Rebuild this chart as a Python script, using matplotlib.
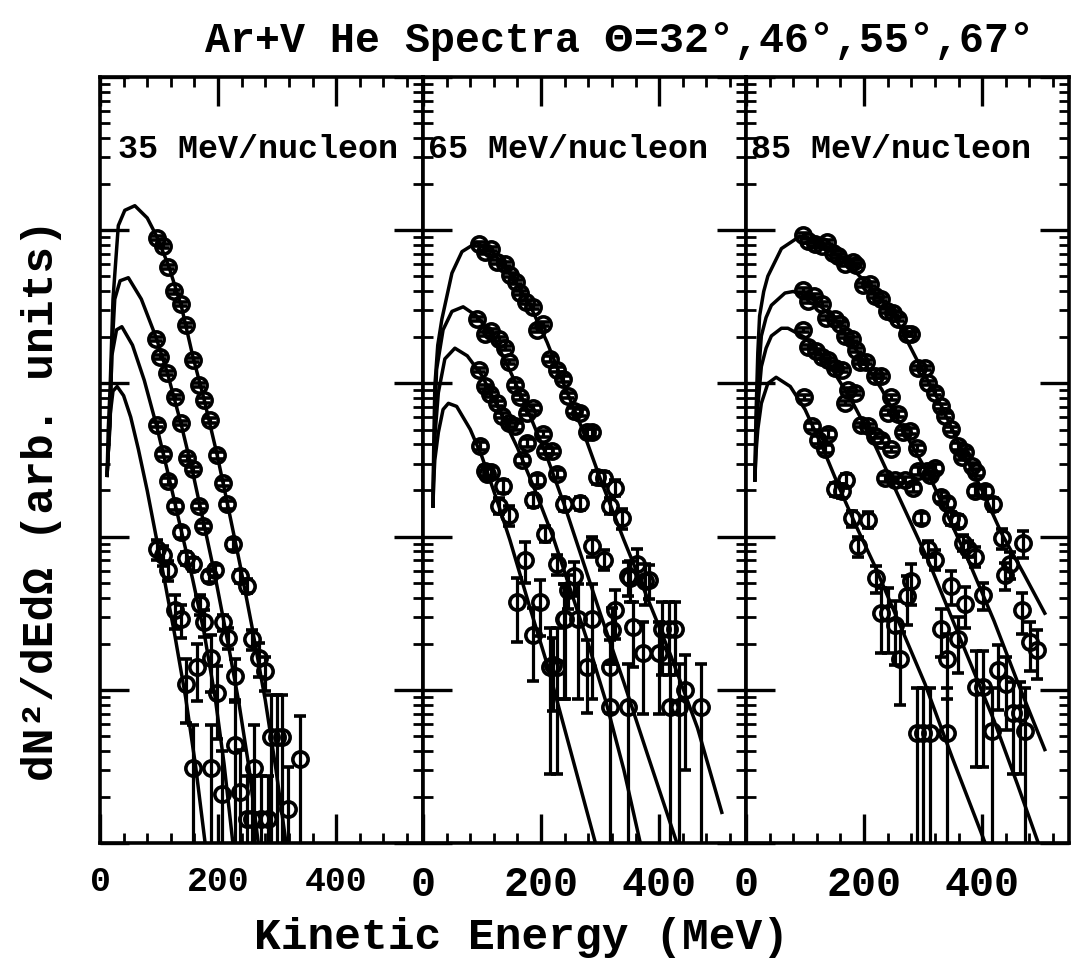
import numpy as np
import matplotlib.pyplot as plt
from matplotlib.ticker import MultipleLocator, LogLocator, NullFormatter, FixedLocator

plt.rcParams['font.family'] = ['Liberation Mono', 'DejaVu Sans Mono']
plt.rcParams['font.weight'] = 'bold'
plt.rcParams['mathtext.fontset'] = 'dejavusans'

# data points: energy (MeV), log10 of dN2/dEdOmega (arb. units), relative error
# 35 MeV/nucleon
e35_32 = [96, 107, 116, 125, 138, 146, 157, 167, 176, 186, 198, 208, 215, 226, 237, 249, 257, 270, 280, 290, 299, 309, 338, 319, 285]
lg35_32 = [3.95, 3.90, 3.76, 3.60, 3.52, 3.38, 3.15, 2.99, 2.89, 2.76, 2.53, 2.35, 2.21, 1.95, 1.74, 1.68, 1.33, 1.21, 1.12, 0.69, 0.69, 0.69, 0.55, 0.22, 0.16]
r35_32 = [.03, .03, .03, .03, .03, .03, .03, .03, .04, .04, .05, .05, .06, .08, .1, .1, .15, .25, .25, .9, .9, .9, .9, .9, .9]
e35_46 = [95, 102, 114, 127, 137, 147, 157, 167, 175, 184, 195, 209, 217, 229, 229, 260, 237, 257]
lg35_46 = [3.29, 3.17, 3.07, 2.91, 2.74, 2.51, 2.44, 2.20, 2.07, 1.74, 1.78, 1.44, 1.34, 1.09, 0.64, 0.49, 0.33, 0.16]
r35_46 = [.03, .03, .03, .03, .03, .04, .04, .05, .05, .08, .08, .12, .15, .3, .9, .9, .9, .9]
e35_55 = [96, 106, 116, 127, 137, 146, 157, 164, 170, 176, 188, 198, 188, 206, 249, 272]
lg35_55 = [2.73, 2.54, 2.36, 2.20, 2.03, 1.86, 1.82, 1.15, 1.56, 1.44, 1.21, 0.98, 0.49, 0.32, 0.16, 0.16]
r35_55 = [.04, .05, .05, .06, .08, .1, .1, .4, .15, .2, .4, .5, .9, .9, .9, .9]
e35_67 = [96, 107, 116, 127, 138, 146, 157]
lg35_67 = [1.92, 1.88, 1.78, 1.52, 1.46, 1.04, 0.49]
r35_67 = [.15, .15, .15, .25, .25, .45, .9]

# 65 MeV/nucleon
e65_32 = [94, 105, 116, 126, 139, 147, 158, 164, 175, 187, 193, 204, 215, 227, 237, 246, 255, 266, 277, 286, 294, 306, 317, 325, 337, 351, 362, 376, 405, 416, 427, 444, 470]
lg65_32 = [3.91, 3.86, 3.88, 3.79, 3.78, 3.71, 3.66, 3.59, 3.53, 3.50, 3.35, 3.39, 3.16, 3.09, 3.03, 2.92, 2.82, 2.81, 2.68, 2.68, 2.39, 2.38, 2.20, 2.32, 2.12, 1.73, 1.82, 1.71, 1.40, 1.40, 1.40, 1.00, 0.89]
r65_32 = [.03, .03, .03, .03, .03, .03, .03, .03, .03, .03, .03, .03, .04, .04, .04, .04, .05, .05, .06, .06, .1, .1, .12, .12, .15, .3, .25, .3, .5, .5, .5, .7, .9]
e65_46 = [91, 105, 116, 128, 139, 145, 156, 164, 176, 187, 204, 207, 218, 227, 238, 255, 266, 286, 306, 320, 348, 373, 382, 399, 419, 433]
lg65_46 = [3.42, 3.32, 3.34, 3.29, 3.23, 3.14, 2.99, 2.91, 2.81, 2.84, 2.67, 2.56, 2.56, 2.41, 2.21, 1.74, 2.22, 1.94, 1.85, 1.39, 1.74, 1.24, 1.72, 1.24, 0.89, 0.89]
r65_46 = [.03, .03, .03, .03, .03, .03, .04, .04, .04, .04, .05, .05, .05, .06, .1, .25, .1, .15, .15, .4, .25, .6, .25, .6, .9, .9]
e65_55 = [94, 105, 114, 125, 133, 145, 156, 167, 176, 187, 193, 207, 227, 246, 238, 262, 286, 221, 277, 317, 325, 356, 348]
lg65_55 = [3.09, 2.98, 2.93, 2.87, 2.79, 2.74, 2.72, 2.50, 2.61, 2.24, 2.37, 2.02, 1.82, 1.65, 1.46, 1.46, 1.46, 1.16, 1.15, 1.15, 1.52, 1.41, 0.89]
r65_55 = [.03, .03, .04, .04, .04, .05, .05, .06, .06, .1, .08, .12, .15, .25, .7, .7, .7, .5, .5, .5, .35, .45, .9]
e65_67 = [97, 105, 108, 116, 128, 136, 145, 159, 173, 187, 198, 215, 227, 240, 317]
lg65_67 = [2.59, 2.43, 2.41, 2.42, 2.20, 2.33, 2.14, 1.57, 1.85, 1.36, 1.57, 1.15, 1.15, 1.46, 0.89]
r65_67 = [.06, .08, .08, .08, .12, .1, .15, .45, .3, .5, .4, .8, .8, .7, .9]

# 85 MeV/nucleon
e85_32 = [97, 105, 117, 128, 138, 147, 156, 167, 181, 187, 198, 210, 218, 229, 238, 249, 258, 272, 280, 292,
          303, 308, 320, 331, 337, 348, 359, 365, 371, 382, 390, 388, 405, 419, 433, 447, 438, 469, 467, 481, 492]
lg85_32 = [3.97, 3.93, 3.91, 3.90, 3.92, 3.85, 3.83, 3.78, 3.79, 3.77, 3.64, 3.65, 3.57, 3.55, 3.47, 3.46, 3.42, 3.32, 3.32, 3.10,
           3.10, 3.00, 2.94, 2.85, 2.79, 2.70, 2.59, 2.52, 2.55, 2.46, 2.42, 2.30, 2.30, 2.21, 1.99, 1.82, 1.75, 1.96, 1.52, 1.31, 1.26]
r85_32 = [.03, .03, .03, .03, .03, .03, .03, .03, .03, .03, .03, .03, .03, .03, .03, .03, .03, .03, .03, .03,
          .03, .03, .04, .04, .04, .04, .05, .05, .05, .05, .05, .08, .08, .1, .15, .2, .2, .2, .3, .35, .35]
e85_46 = [97, 105, 116, 128, 136, 150, 159, 167, 179, 187, 193, 204, 218, 229, 246, 241, 258, 266, 277, 289,
          292, 306, 311, 320, 331, 340, 348, 359, 368, 376, 388, 402, 427, 441, 453, 464, 472]
lg85_46 = [3.61, 3.54, 3.57, 3.52, 3.43, 3.42, 3.39, 3.31, 3.29, 3.22, 3.14, 3.14, 3.05, 3.05, 2.91, 2.81, 2.80, 2.68, 2.69, 2.58,
           2.43, 2.43, 2.40, 2.45, 2.26, 2.22, 2.12, 2.10, 1.96, 1.92, 1.87, 1.62, 1.13, 1.04, 0.85, 0.85, 0.73]
r85_46 = [.03, .03, .03, .03, .03, .03, .03, .03, .03, .03, .03, .03, .03, .03, .04, .04, .04, .04, .04, .05,
          .06, .06, .06, .06, .08, .08, .1, .1, .12, .12, .15, .2, .45, .5, .6, .6, .9]
e85_55 = [97, 105, 119, 128, 139, 150, 162, 173, 184, 167, 195, 207, 218, 229, 246, 235, 252, 269, 283, 297,
          308, 320, 348, 371, 359, 390, 402, 416, 331, 340]
lg85_55 = [3.35, 3.24, 3.21, 3.17, 3.15, 3.10, 3.09, 2.96, 2.94, 2.87, 2.73, 2.72, 2.66, 2.63, 2.57, 2.38, 2.37, 2.37, 2.32, 2.12,
           1.92, 1.85, 1.68, 1.56, 1.33, 1.02, 1.02, 0.73, 1.40, 1.20]
r85_55 = [.03, .03, .03, .03, .03, .03, .03, .03, .03, .03, .03, .03, .04, .04, .04, .05, .05, .05, .06, .08,
          .12, .15, .25, .3, .4, .7, .7, .9, .35, .45]
e85_67 = [99, 111, 122, 133, 139, 150, 162, 170, 179, 190, 207, 221, 229, 241, 252, 261, 272, 280, 289, 300, 311, 340]
lg85_67 = [2.91, 2.72, 2.63, 2.57, 2.67, 2.31, 2.30, 2.37, 2.12, 1.94, 2.11, 1.73, 1.50, 1.50, 1.42, 1.20, 1.61, 1.71, 0.72, 0.72, 0.72, 0.72]
r85_67 = [.04, .05, .06, .06, .06, .1, .1, .1, .12, .15, .12, .2, .45, .45, .45, .5, .35, .3, .95, .95, .95, .95]

# fit curves: energy (MeV), log10 yield
f35_32 = ([12, 14, 17, 22, 31, 42, 59, 80, 96, 116, 138, 157, 176, 198, 215, 237, 257, 280, 298, 315],
          [2.40, 2.70, 2.96, 3.55, 4.03, 4.13, 4.16, 4.08, 3.96, 3.77, 3.50, 3.18, 2.90, 2.54, 2.23, 1.82, 1.42, 0.93, 0.48, 0.0])
f35_46 = ([12, 14, 17, 20, 25, 34, 48, 70, 95, 114, 137, 157, 175, 195, 217, 235, 252, 268],
          [2.40, 2.55, 2.72, 3.20, 3.55, 3.67, 3.69, 3.55, 3.30, 3.07, 2.74, 2.42, 2.10, 1.74, 1.30, 0.92, 0.50, 0.0])
f35_55 = ([12, 14, 17, 20, 28, 37, 55, 75, 96, 116, 137, 157, 176, 195, 210, 225],
          [2.40, 2.55, 2.80, 3.18, 3.35, 3.37, 3.25, 3.02, 2.72, 2.40, 2.05, 1.72, 1.38, 0.95, 0.52, 0.0])
f35_67 = ([12, 14, 17, 22, 29, 40, 52, 65, 80, 96, 110, 127, 145, 162, 178],
          [2.40, 2.55, 2.79, 2.95, 2.98, 2.92, 2.78, 2.57, 2.30, 1.98, 1.70, 1.35, 0.95, 0.50, 0.0])
f65_32 = ([17, 18, 20, 25, 32, 49, 66, 91, 120, 150, 180, 210, 240, 270, 300, 340, 380, 420, 465, 506],
          [2.20, 2.55, 2.98, 3.25, 3.42, 3.72, 3.86, 3.92, 3.85, 3.70, 3.52, 3.27, 2.98, 2.70, 2.38, 1.98, 1.60, 1.22, 0.75, 0.20])
f65_46 = ([17, 18, 20, 23, 34, 49, 68, 91, 120, 150, 180, 210, 240, 270, 300, 340, 380, 430],
          [2.20, 2.45, 2.75, 3.09, 3.35, 3.47, 3.50, 3.44, 3.30, 3.06, 2.80, 2.52, 2.20, 1.85, 1.50, 1.05, 0.58, 0.0])
f65_55 = ([17, 18, 20, 26, 37, 54, 75, 100, 130, 160, 190, 220, 250, 280, 310, 340, 368],
          [2.20, 2.40, 2.65, 2.94, 3.16, 3.23, 3.18, 3.05, 2.82, 2.58, 2.30, 2.00, 1.65, 1.30, 0.92, 0.48, 0.0])
f65_67 = ([17, 18, 20, 26, 34, 43, 57, 80, 100, 125, 147, 180, 210, 250, 292],
          [2.20, 2.35, 2.50, 2.68, 2.83, 2.87, 2.85, 2.70, 2.52, 2.24, 1.98, 1.55, 1.17, 0.60, 0.0])
f85_32 = ([15, 17, 20, 23, 30, 37, 60, 91, 130, 170, 210, 250, 290, 330, 365, 400, 433, 470, 506],
          [2.37, 2.80, 3.20, 3.44, 3.60, 3.70, 3.88, 3.96, 3.91, 3.79, 3.63, 3.45, 3.15, 2.86, 2.57, 2.30, 2.02, 1.76, 1.50])
f85_46 = ([15, 17, 20, 26, 34, 43, 66, 80, 110, 150, 190, 230, 270, 310, 340, 376, 420, 460, 506],
          [2.37, 2.70, 3.00, 3.31, 3.43, 3.51, 3.59, 3.60, 3.56, 3.42, 3.20, 2.96, 2.67, 2.40, 2.15, 1.85, 1.45, 1.05, 0.61])
f85_55 = ([15, 17, 20, 26, 34, 43, 60, 71, 100, 140, 180, 218, 260, 308, 359, 420, 460, 495],
          [2.37, 2.60, 2.85, 3.11, 3.23, 3.31, 3.36, 3.36, 3.30, 3.13, 2.88, 2.60, 2.25, 1.85, 1.37, 0.80, 0.38, 0.0])
f85_67 = ([15, 17, 20, 26, 37, 51, 75, 100, 131, 160, 190, 218, 260, 303, 350, 405],
          [2.37, 2.55, 2.70, 2.87, 3.00, 3.04, 2.98, 2.83, 2.57, 2.30, 2.04, 1.81, 1.43, 1.04, 0.55, 0.0])

panel_labels = ['35 MeV/nucleon', '65 MeV/nucleon', '85 MeV/nucleon']
panel_data = [
    [(e35_32, lg35_32, r35_32), (e35_46, lg35_46, r35_46), (e35_55, lg35_55, r35_55), (e35_67, lg35_67, r35_67)],
    [(e65_32, lg65_32, r65_32), (e65_46, lg65_46, r65_46), (e65_55, lg65_55, r65_55), (e65_67, lg65_67, r65_67)],
    [(e85_32, lg85_32, r85_32), (e85_46, lg85_46, r85_46), (e85_55, lg85_55, r85_55), (e85_67, lg85_67, r85_67)],
]
panel_fits = [[f35_32, f35_46, f35_55, f35_67],
              [f65_32, f65_46, f65_55, f65_67],
              [f85_32, f85_46, f85_55, f85_67]]

fig = plt.figure(figsize=(10.72, 9.65), dpi=100)

lefts = [100 / 1072, 423 / 1072, 746 / 1072]
label_x = [0.056, 0.015, 0.015]
tick_size = [25, 30, 30]

for i in range(3):
    ax = fig.add_axes([lefts[i], 0.1264, 323 / 1072, 0.7938])
    for e, lg in panel_fits[i]:
        ax.plot(e, 10 ** np.array(lg), color='black', lw=2.5, zorder=3)
    for e, lg, r in panel_data[i]:
        y = 10 ** np.array(lg)
        ax.errorbar(e, y, yerr=np.array(r) * y, fmt='o', ms=11, mfc='none', mec='black', mew=2.6,
                    ecolor='black', elinewidth=2.3, capsize=4.5, capthick=2.3, zorder=4)
    ax.set_yscale('log')
    ax.set_ylim(1, 1e5)
    ax.set_xlim(0, 547)
    ax.xaxis.set_major_locator(FixedLocator([0, 200, 400]))
    ax.xaxis.set_minor_locator(MultipleLocator(40))
    ax.yaxis.set_major_locator(LogLocator(base=10, numticks=10))
    ax.yaxis.set_minor_locator(LogLocator(base=10, subs=np.arange(2, 10), numticks=10))
    ax.yaxis.set_major_formatter(NullFormatter())
    ax.yaxis.set_minor_formatter(NullFormatter())
    ax.tick_params(which='both', direction='in', top=True, right=True, labelleft=False)
    ax.tick_params(which='major', length=21, width=2.4)
    ax.tick_params(which='minor', length=7, width=2.0)
    ax.tick_params(axis='x', which='major', labelsize=tick_size[i], pad=16)
    for s in ax.spines.values():
        s.set_linewidth(2.6)
    ax.text(label_x[i], 0.905, panel_labels[i], transform=ax.transAxes, fontsize=24, va='center', ha='left')

# title: monospace cells of ~24.9 px, theta drawn with mathtext
title_y = 1 - 41 / 965
fig.text(205 / 1072, title_y, 'Ar+V He Spectra', fontsize=30, ha='left', va='center')
fig.text(618 / 1072, title_y, r'$\Theta$', fontsize=25, ha='center', va='center')
fig.text(634 / 1072, title_y, '=32\u00b0,46\u00b0,55\u00b0,67\u00b0', fontsize=30,
         ha='left', va='center')
fig.text(522 / 1072, 1 - 938 / 965, 'Kinetic Energy (MeV)', fontsize=32, ha='center', va='center')
fig.text(42 / 1072, 1 - 500 / 965, 'dN\u00b2/dEd\u03a9 (arb. units)', fontsize=32, rotation=90,
         ha='center', va='center')

fig.savefig('out.png', dpi=100)
